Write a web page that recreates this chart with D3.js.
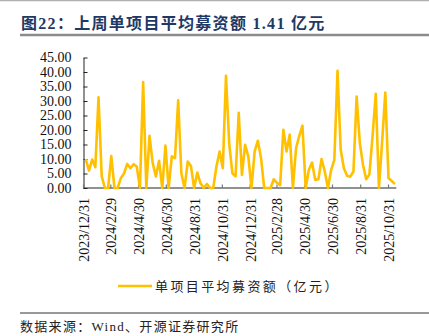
<!DOCTYPE html>
<html><head><meta charset="utf-8">
<script src="https://cdn.jsdelivr.net/npm/d3@7"></script>
<style>body{margin:0;background:#fff;}svg{display:block;}</style>
</head><body>
<script>
// ---- data ----
const startDate = "2024-01-05"; // first weekly observation (Friday)
const values = [10,6,9.8,7.2,31.3,4,0,0,11,0,0,3.4,5,8.3,6.8,8.2,7.4,0,36.5,0,
  18,8.6,4,9.4,0,14.6,0,10.9,10.3,30.2,5,0,9.1,7.6,0,5.3,1.6,0,1.4,0,
  0,7.4,12.6,6.8,38.7,15.5,5.1,4,25.9,4.5,14.9,10.9,0,12.6,16.3,10.3,0,0,0,3,
  1.8,1,20.1,12.6,18.4,0,13.8,18,21.5,0,6.2,8.8,2.8,3,10,5.7,0,6.2,9.7,40.4,
  13.2,6.8,4.2,3.9,5.7,31.5,15.5,8,3,4.7,18,32.5,0,16,32.9,3.4,2.4,1.41];
const xTickLabels = ["2023/12/31","2024/2/29","2024/4/30","2024/6/30","2024/8/31","2024/10/31",
  "2024/12/31","2025/2/28","2025/4/30","2025/6/30","2025/8/31","2025/10/31"];
const yTicks = [0,5,10,15,20,25,30,35,40,45];
const title = "图22：上周单项目平均募资额 1.41 亿元";
const seriesName = "单项目平均募资额（亿元）";
const source = "数据来源：Wind、开源证券研究所";

const W = 429, H = 336;
const parse = d3.timeParse("%Y/%m/%d");
const t0 = d3.timeParse("%Y-%m-%d")(startDate);
const data = values.map((v, i) => ({date: d3.timeDay.offset(t0, 7 * i), v}));

const svg = d3.select("body").append("svg").attr("width", W).attr("height", H);

// top grey rule and title
svg.append("line").attr("x1",0).attr("x2",W).attr("y1",0.5).attr("y2",0.5).attr("stroke","#b0b0b0").attr("stroke-width",1.5);
svg.append("text").attr("x",21).attr("y",29)
  .attr("font-family","'Liberation Serif','Noto Sans CJK SC',serif").attr("font-weight","bold")
  .attr("font-size",16).attr("letter-spacing",1.3).attr("fill","#1f3864").text(title);
svg.append("line").attr("x1",20).attr("x2",W).attr("y1",35).attr("y2",35).attr("stroke","#8c8c8c").attr("stroke-width",2.5);

// scales
const x = d3.scaleTime().domain([parse("2023/12/31"), parse("2025/10/31")]).range([83.5, 388.5]);
const y = d3.scaleLinear().domain([0, 45]).range([188, 57.5]);

// y axis
const yAxis = d3.axisLeft(y).tickValues(yTicks).tickFormat(d3.format(".2f")).tickSize(0).tickPadding(12);
const gy = svg.append("g").attr("transform","translate(83.5,0)").call(yAxis);
gy.select(".domain").attr("stroke","#222");
gy.selectAll("text").attr("font-family","'Liberation Serif',serif").attr("font-size",14).attr("fill","#111");
gy.selectAll(".tick").append("line").attr("x1",0).attr("x2",4).attr("stroke","#222");

// x axis
const xEnd = x(d3.timeDay.offset(data[data.length-1].date, 1)) + 1;
const gx = svg.append("g").attr("transform","translate(0,188)");
gx.append("line").attr("x1",83.5).attr("x2",xEnd).attr("stroke","#222");
const xTickDates = xTickLabels.map(parse);
gx.selectAll(".xt").data(xTickDates).join("line").attr("class","xt")
  .attr("x1",d=>x(d)).attr("x2",d=>x(d)).attr("y1",0).attr("y2",-3.5).attr("stroke","#777").attr("stroke-width",1.2);
gx.selectAll(".xl").data(xTickLabels).join("text").attr("class","xl")
  .attr("transform",(d)=>`translate(${x(parse(d))+0.5},10) rotate(-90)`)
  .attr("text-anchor","end").attr("dy","0.35em")
  .attr("font-family","'Liberation Serif',serif").attr("font-size",14).attr("fill","#111").text(d=>d);

// line
const line = d3.line().x(d=>x(d.date)).y(d=>y(d.v));
svg.append("path").datum(data).attr("d",line).attr("fill","none")
  .attr("stroke","#FFC000").attr("stroke-width",2.6).attr("stroke-linejoin","round");

// legend
svg.append("line").attr("x1",118).attr("x2",152).attr("y1",286).attr("y2",286).attr("stroke","#FFC000").attr("stroke-width",2.6);
svg.append("text").attr("x",155).attr("y",290.5)
  .attr("font-family","'Noto Sans CJK SC',sans-serif").attr("font-size",13).attr("letter-spacing",2.4)
  .attr("fill","#222").text(seriesName);

// source
svg.append("line").attr("x1",20).attr("x2",W).attr("y1",313).attr("y2",313).attr("stroke","#333").attr("stroke-width",1);
svg.append("text").attr("x",20).attr("y",331)
  .attr("font-family","'Liberation Serif','Noto Sans CJK SC',serif").attr("font-size",13).attr("letter-spacing",1.3)
  .attr("fill","#222").text(source);
</script>
</body></html>
